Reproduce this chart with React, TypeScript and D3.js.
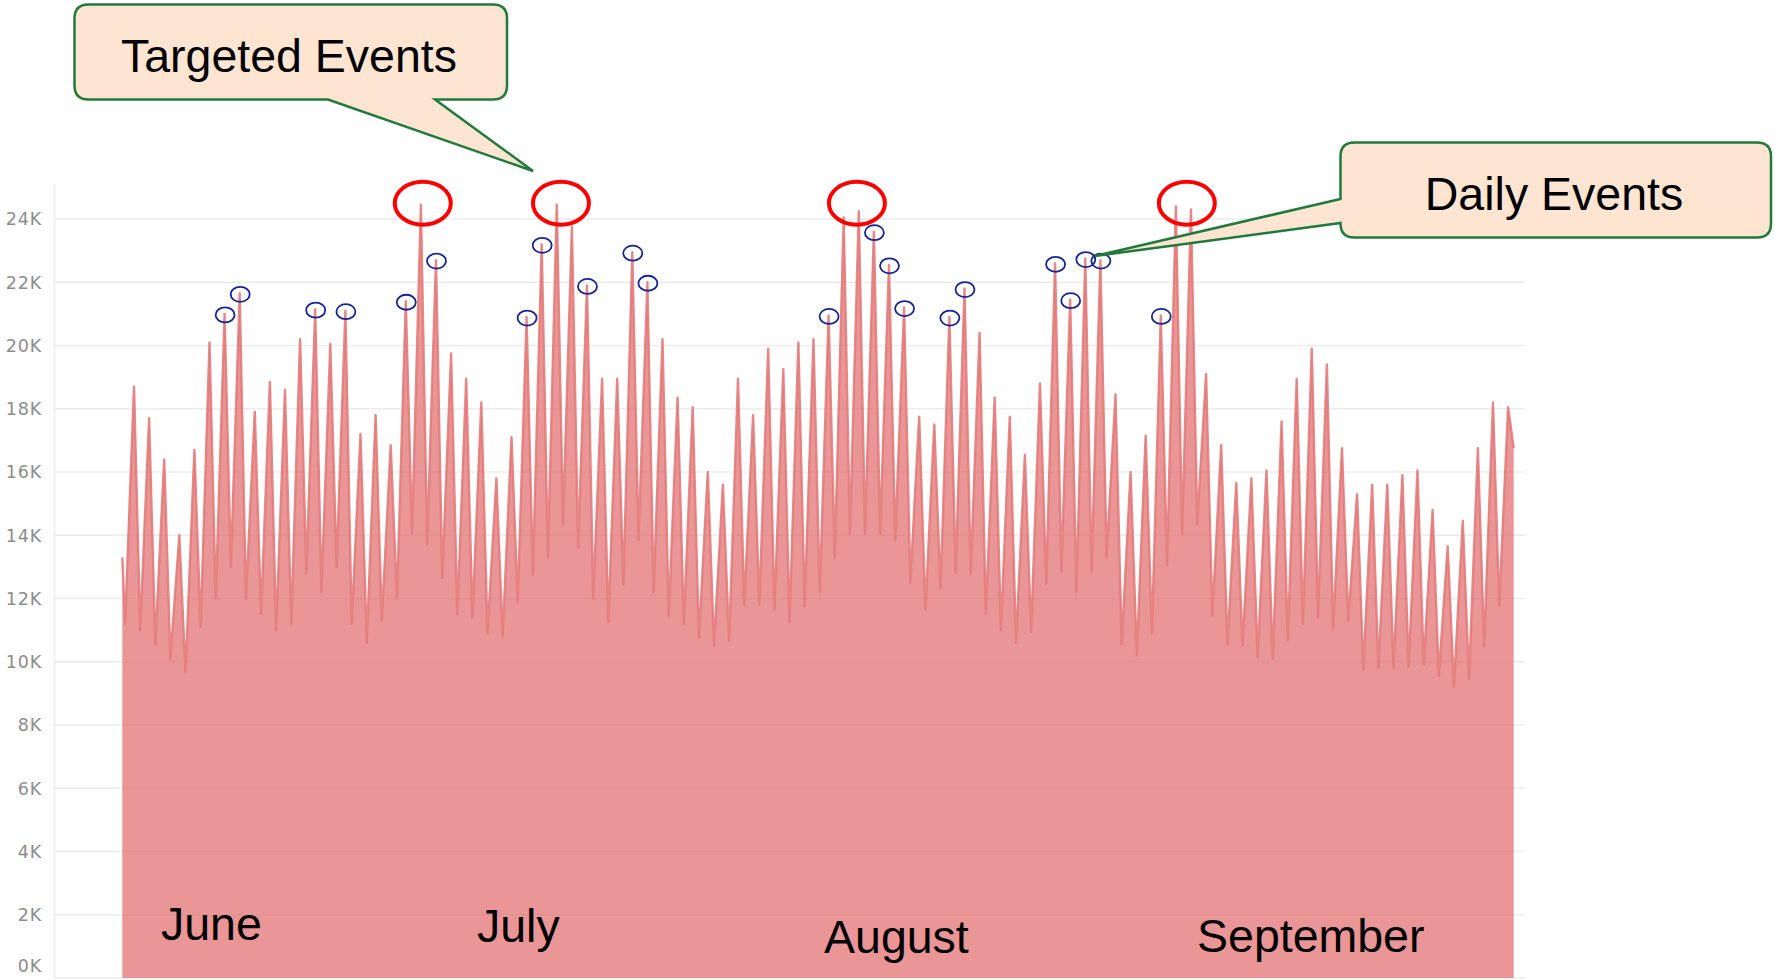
import { useEffect, useRef } from 'react';
import * as d3 from 'd3';

// daily maximum (evening peak) and minimum (early morning low), in thousands
const dailyPeaks = [
  18.7, 17.7, 16.4, 14.0, 16.7, 20.1, 21.0, 21.65, 17.9, 18.85,
  18.6, 20.2, 21.15, 20.05, 21.1, 17.2, 17.8, 16.85, 21.4, 24.45,
  22.7, 19.75, 18.95, 18.2, 15.8, 17.1, 20.9, 23.2, 24.45, 23.75,
  21.9, 18.95, 18.95, 22.95, 22.0, 20.2, 18.35, 18.05, 16.0, 15.6,
  18.95, 17.8, 19.9, 19.25, 20.1, 20.2, 20.95, 24.05, 24.25, 23.6,
  22.55, 21.2, 17.75, 17.5, 20.9, 21.8, 20.4, 18.35, 17.75, 16.55,
  18.8, 22.6, 21.45, 22.75, 22.7, 18.45, 16.0, 17.15, 20.95, 24.4,
  24.3, 19.1, 16.85, 15.65, 15.8, 16.05, 17.6, 18.95, 19.9, 19.4,
  16.75, 15.3, 15.6, 15.6, 15.9, 16.05, 14.8, 13.65, 14.45, 16.75,
  18.2, 18.05,
];

const dailyLows = [
  11.2, 11.0, 10.55, 10.1, 9.65, 11.1, 12.0, 13.0, 12.0, 11.5,
  11.0, 11.2, 12.8, 12.2, 13.0, 11.2, 10.6, 11.3, 12.0, 14.05,
  13.7, 12.65, 11.5, 11.4, 10.9, 10.8, 11.9, 12.75, 13.3, 14.35,
  13.6, 12.0, 11.25, 12.45, 13.85, 12.2, 11.45, 11.2, 10.75, 10.5,
  10.65, 11.8, 11.8, 11.65, 11.25, 11.75, 12.2, 13.3, 14.05, 14.05,
  14.05, 13.85, 12.5, 11.65, 12.3, 12.8, 12.8, 11.5, 11.0, 10.6,
  10.95, 12.45, 12.85, 12.2, 12.85, 13.3, 10.55, 10.2, 10.9, 13.05,
  14.05, 14.35, 11.45, 10.55, 10.5, 10.15, 10.1, 10.7, 11.2, 11.4,
  11.05, 11.3, 9.75, 9.8, 9.8, 9.85, 9.9, 9.55, 9.2, 9.45,
  10.5, 11.75,
];

const lowHour = 4.5;
const peakHour = 18.6;
const startValue = 13.3;
const endValue = 16.75;
const endHour = 3.5;

const yTicks = [0, 2, 4, 6, 8, 10, 12, 14, 16, 18, 20, 22, 24];

// peaks (1-based day) marked as daily events
const dailyEventDays = [7, 8, 13, 15, 19, 21, 27, 28, 31, 34, 35, 47, 50, 51, 52, 55, 56, 62, 63, 64, 65, 69];
// centre of the targeted-event rings, in days
const targetedEventT = [19.9, 29.05, 48.65, 70.5];

const monthLabels = ['June', 'July', 'August', 'September'];
const monthX = [161, 477, 824, 1197];
const monthY = [940, 942, 953, 952];

const W = 1775;
const H = 980;

const App = () => {
  const svgRef = useRef(null);

  useEffect(() => {
    const svg = d3.select(svgRef.current);
    svg.selectAll('*').remove();

    const plotLeft = 55;
    const plotRight = 1525;
    const plotTop = 184;

    const points = [{ t: 0, v: startValue }];
    dailyPeaks.forEach((p, i) => {
      points.push({ t: i + lowHour / 24, v: dailyLows[i] });
      points.push({ t: i + peakHour / 24, v: p });
    });
    points.push({ t: dailyPeaks.length + endHour / 24, v: endValue });

    const x = d3.scaleLinear().domain([0, 92.2]).range([122.3, 1514.5]);
    const y = d3.scaleLinear().domain([0, 24]).range([978, 219]);

    // gridlines
    svg.append('g')
      .selectAll('line')
      .data(yTicks)
      .enter()
      .append('line')
      .attr('x1', plotLeft)
      .attr('x2', plotRight)
      .attr('y1', d => y(d))
      .attr('y2', d => y(d))
      .attr('stroke', '#ececec')
      .attr('stroke-width', 1.5);

    svg.append('line')
      .attr('x1', 54.5).attr('x2', 54.5)
      .attr('y1', plotTop).attr('y2', y(0))
      .attr('stroke', '#ececec')
      .attr('stroke-width', 1.5);

    // area
    const area = d3.area()
      .x(d => x(d.t))
      .y0(y(0))
      .y1(d => y(d.v))
      .curve(d3.curveLinear);

    const line = d3.line()
      .x(d => x(d.t))
      .y(d => y(d.v))
      .curve(d3.curveLinear);

    svg.append('path')
      .datum(points)
      .attr('d', area)
      .attr('fill', '#e16969')
      .attr('fill-opacity', 0.7);

    svg.append('path')
      .datum(points)
      .attr('d', line)
      .attr('fill', 'none')
      .attr('stroke', '#e47a7a')
      .attr('stroke-width', 2.4)
      .attr('stroke-opacity', 0.9)
      .attr('stroke-linejoin', 'round');

    // y labels
    svg.append('g')
      .selectAll('text')
      .data(yTicks)
      .enter()
      .append('text')
      .attr('x', 42)
      .attr('y', d => (d === 0 ? y(d) - 12 : y(d)))
      .attr('dy', '0.36em')
      .attr('text-anchor', 'end')
      .style('font-family', 'DejaVu Sans, sans-serif')
      .style('font-size', '17.5px')
      .style('letter-spacing', '0.8px')
      .style('fill', '#8c8c8c')
      .text(d => `${d}K`);

    // month labels
    svg.append('g')
      .selectAll('text')
      .data(monthLabels)
      .enter()
      .append('text')
      .attr('x', (d, i) => monthX[i])
      .attr('y', (d, i) => monthY[i])
      .style('font-family', 'Liberation Sans, Arial, sans-serif')
      .style('font-size', '46.5px')
      .style('fill', '#000')
      .text(d => d);

    // daily event rings
    svg.append('g')
      .selectAll('ellipse')
      .data(dailyEventDays)
      .enter()
      .append('ellipse')
      .attr('cx', d => x(d - 1 + peakHour / 24) + 0.5)
      .attr('cy', d => y(dailyPeaks[d - 1]) + 1)
      .attr('rx', 9.5)
      .attr('ry', 7.5)
      .attr('fill', 'none')
      .attr('stroke', '#13249a')
      .attr('stroke-width', 1.8);

    // targeted event rings
    svg.append('g')
      .selectAll('ellipse')
      .data(targetedEventT)
      .enter()
      .append('ellipse')
      .attr('cx', d => x(d))
      .attr('cy', y(24.5))
      .attr('rx', 28)
      .attr('ry', 21.5)
      .attr('fill', 'none')
      .attr('stroke', '#ff0000')
      .attr('stroke-width', 4);

    // callouts
    const r = 14;
    const tx0 = 74.5, ty0 = 4.5, tx1 = 507, ty1 = 99.5;
    const targetedPath = `M${tx0 + r},${ty0} H${tx1 - r} Q${tx1},${ty0} ${tx1},${ty0 + r} V${ty1 - r} Q${tx1},${ty1} ${tx1 - r},${ty1} H435 L533,171 L328,${ty1} H${tx0 + r} Q${tx0},${ty1} ${tx0},${ty1 - r} V${ty0 + r} Q${tx0},${ty0} ${tx0 + r},${ty0} Z`;

    const dx0 = 1340.5, dy0 = 142.5, dx1 = 1771, dy1 = 237.5;
    const dailyPath = `M${dx0 + r},${dy0} H${dx1 - r} Q${dx1},${dy0} ${dx1},${dy0 + r} V${dy1 - r} Q${dx1},${dy1} ${dx1 - r},${dy1} H${dx0 + r} Q${dx0},${dy1} ${dx0},${dy1 - r} V223 L1095,256 L${dx0},199 V${dy0 + r} Q${dx0},${dy0} ${dx0 + r},${dy0} Z`;

    [targetedPath, dailyPath].forEach(p => {
      svg.append('path')
        .attr('d', p)
        .attr('fill', '#fde5d2')
        .attr('stroke', '#1f7a3c')
        .attr('stroke-width', 2.5)
        .attr('stroke-linejoin', 'miter');
    });

    svg.append('text')
      .attr('x', 289)
      .attr('y', 72)
      .attr('text-anchor', 'middle')
      .style('font-family', 'Liberation Sans, Arial, sans-serif')
      .style('font-size', '46.5px')
      .style('fill', '#000')
      .text('Targeted Events');

    svg.append('text')
      .attr('x', 1554)
      .attr('y', 210)
      .attr('text-anchor', 'middle')
      .style('font-family', 'Liberation Sans, Arial, sans-serif')
      .style('font-size', '46.5px')
      .style('fill', '#000')
      .text('Daily Events');
  }, []);

  return (
    <svg
      ref={svgRef}
      width={W}
      height={H}
      style={{ position: 'absolute', left: 0, top: 0, background: '#fff' }}
    />
  );
};

export default App;
